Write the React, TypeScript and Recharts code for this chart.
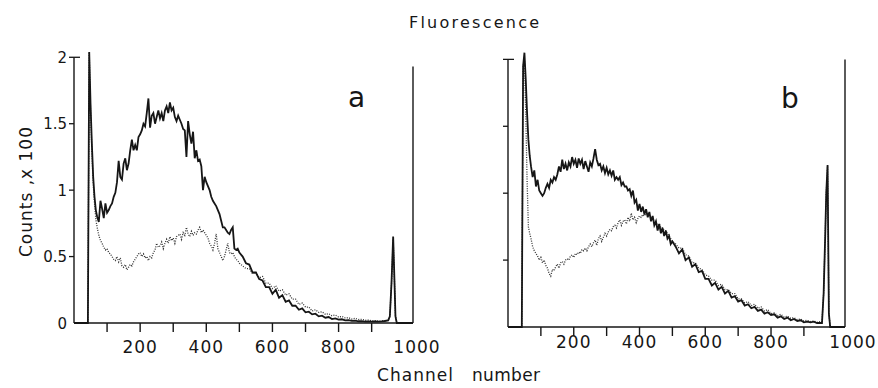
import React from 'react';
import { LineChart, Line, XAxis, YAxis, ReferenceLine } from 'recharts';

// Channel numbers (x values)
const channels = [
  0, 42, 46, 50, 54, 58, 62, 66, 70,
  75, 80, 85, 90, 95, 100, 105, 110, 115, 120,
  125, 130, 135, 140, 145, 150, 155, 160, 165, 170,
  175, 180, 185, 190, 195, 200, 205, 210, 215, 220,
  225, 230, 235, 240, 245, 250, 255, 260, 265, 270,
  275, 280, 285, 290, 295, 300, 305, 310, 315, 320,
  325, 330, 335, 340, 345, 350, 355, 360, 365, 370,
  375, 380, 385, 390, 395, 400, 405, 410, 415, 420,
  425, 430, 435, 440, 445, 450, 455, 460, 465, 470,
  475, 480, 485, 490, 495, 500,
  510, 520, 530, 540, 550, 560, 570, 580, 590, 600,
  610, 620, 630, 640, 650, 660, 670, 680, 690, 700,
  710, 720, 730, 740, 750, 760, 770, 780, 790, 800,
  810, 820, 830, 840, 850, 860, 870, 880, 890, 900,
  910, 920, 930, 940, 950,
  955, 960, 965, 968, 972, 976, 980, 1000, 1025,
];

// Panel a, solid trace (counts x 100)
const aSolid = [
  0, 0, 2.04, 1.65, 1.35, 1.1, 0.95, 0.85, 0.8,
  0.76, 0.92, 0.86, 0.79, 0.9, 0.83, 0.85, 0.88, 0.9, 0.95,
  0.98, 1.06, 1.22, 1.1, 1.08, 1.2, 1.24, 1.15, 1.2, 1.3,
  1.38, 1.3, 1.34, 1.3, 1.4, 1.42, 1.45, 1.5, 1.48, 1.58,
  1.69, 1.47, 1.56, 1.58, 1.5, 1.55, 1.6, 1.54, 1.58, 1.52,
  1.6, 1.63, 1.58, 1.66, 1.6, 1.62, 1.55, 1.52, 1.56, 1.53,
  1.5, 1.46, 1.45, 1.25, 1.52, 1.42, 1.35, 1.44, 1.24, 1.3,
  1.22, 1.23, 1.18, 1.0, 1.1, 1.06, 1.03, 1.0, 0.95, 0.92,
  0.9, 0.88, 0.85, 0.82, 0.77, 0.72, 0.72, 0.7, 0.68, 0.67,
  0.7, 0.72, 0.56, 0.55, 0.56, 0.53,
  0.5, 0.45, 0.44, 0.38, 0.38, 0.33, 0.32, 0.27, 0.27, 0.22,
  0.25, 0.19, 0.21, 0.16, 0.17, 0.13, 0.13, 0.1, 0.11, 0.08,
  0.085, 0.065, 0.07, 0.05, 0.055, 0.04, 0.045, 0.03, 0.035, 0.025,
  0.028, 0.02, 0.022, 0.016, 0.018, 0.013, 0.014, 0.01, 0.012, 0.01,
  0.012, 0.01, 0.012, 0.015, 0.02,
  0.05, 0.3, 0.65, 0.4, 0.05, 0, 0, 0, 0,
];

// Panel a, dotted trace
const aDotted = [
  0, 0, 2.04, 1.6, 1.3, 1.05, 0.9, 0.78, 0.72,
  0.66, 0.62, 0.6, 0.57, 0.55, 0.56, 0.53, 0.52, 0.5, 0.48,
  0.47, 0.5, 0.46, 0.49, 0.43, 0.42, 0.44, 0.4, 0.42, 0.44,
  0.43, 0.46, 0.48, 0.5, 0.52, 0.53, 0.5, 0.52, 0.49, 0.5,
  0.47, 0.5, 0.49, 0.53, 0.55, 0.6, 0.57, 0.58, 0.61, 0.56,
  0.6, 0.63, 0.6, 0.65, 0.62, 0.64, 0.6, 0.65, 0.66, 0.67,
  0.63, 0.68, 0.66, 0.72, 0.67, 0.65, 0.69, 0.66, 0.68, 0.67,
  0.7, 0.72, 0.68, 0.7, 0.68, 0.66, 0.64, 0.6, 0.58, 0.55,
  0.6, 0.67, 0.56, 0.53, 0.5, 0.47, 0.5, 0.55, 0.6, 0.53,
  0.52, 0.53, 0.5, 0.48, 0.47, 0.45,
  0.43, 0.41, 0.41, 0.37, 0.38, 0.34, 0.35, 0.3, 0.3, 0.26,
  0.28, 0.24, 0.25, 0.21, 0.22, 0.18, 0.18, 0.14, 0.15, 0.12,
  0.12, 0.09, 0.1, 0.08, 0.085, 0.065, 0.07, 0.055, 0.06, 0.045,
  0.05, 0.038, 0.04, 0.03, 0.035, 0.026, 0.028, 0.02, 0.022, 0.016,
  0.018, 0.014, 0.016, 0.018, 0.02,
  0.05, 0.3, 0.63, 0.4, 0.05, 0, 0, 0, 0,
];

// Panel b, solid trace
const bSolid = [
  0, 0, 1.95, 2.05, 1.85, 1.6, 1.4, 1.28, 1.2,
  1.12, 1.17, 1.05, 1.1, 1.02, 1.0, 0.98, 1.0, 1.04, 1.07,
  1.04, 1.1, 1.08, 1.12, 1.1, 1.14, 1.2, 1.16, 1.25, 1.18,
  1.22, 1.17, 1.23, 1.2, 1.27, 1.22, 1.25, 1.19, 1.26, 1.22,
  1.25, 1.18, 1.24, 1.2, 1.16, 1.23, 1.2, 1.26, 1.33, 1.25,
  1.21, 1.22, 1.17, 1.2, 1.15, 1.19, 1.14, 1.17, 1.13, 1.17,
  1.1, 1.12, 1.1, 1.12, 1.06, 1.08, 1.05, 1.05, 1.02, 1.03,
  0.98, 1.02, 0.93, 0.95, 0.87, 0.92, 0.86, 0.9, 0.84, 0.88,
  0.82, 0.86, 0.79, 0.83, 0.76, 0.79, 0.72, 0.77, 0.7, 0.74,
  0.68, 0.72, 0.66, 0.68, 0.62, 0.64,
  0.6, 0.55, 0.58, 0.5, 0.52, 0.45, 0.47, 0.41, 0.42, 0.36,
  0.36, 0.31, 0.33, 0.28, 0.3, 0.25, 0.27, 0.22, 0.23, 0.19,
  0.2, 0.16, 0.17, 0.14, 0.15, 0.12, 0.13, 0.1, 0.11, 0.09,
  0.095, 0.07, 0.08, 0.06, 0.07, 0.05, 0.06, 0.045, 0.05, 0.035,
  0.04, 0.035, 0.04, 0.03, 0.03,
  0.03, 0.25, 0.7, 1.0, 1.21, 0.1, 0, 0, 0,
];

// Panel b, dotted trace
const bDotted = [
  0, 0, 1.95, 2.0, 1.6, 1.1, 0.75, 0.7, 0.66,
  0.6, 0.57, 0.55, 0.53, 0.5, 0.52, 0.48, 0.5, 0.46, 0.44,
  0.4, 0.38, 0.43, 0.42, 0.45, 0.47, 0.44, 0.48, 0.49, 0.47,
  0.5, 0.51, 0.5, 0.53, 0.54, 0.52, 0.55, 0.54, 0.56, 0.55,
  0.58, 0.57, 0.59, 0.57, 0.6, 0.62, 0.6, 0.63, 0.65, 0.61,
  0.66, 0.68, 0.64, 0.67, 0.7, 0.68, 0.71, 0.73, 0.72, 0.75,
  0.76, 0.74, 0.78, 0.8, 0.76, 0.79, 0.8, 0.77, 0.82, 0.79,
  0.85, 0.8, 0.82, 0.78, 0.81, 0.83, 0.82, 0.84, 0.83, 0.85,
  0.84, 0.83, 0.82, 0.81, 0.79, 0.78, 0.76, 0.77, 0.74, 0.74,
  0.72, 0.72, 0.7, 0.68, 0.66, 0.64,
  0.62, 0.59, 0.59, 0.54, 0.53, 0.48, 0.48, 0.44, 0.43, 0.39,
  0.38, 0.35, 0.35, 0.31, 0.32, 0.28, 0.28, 0.25, 0.25, 0.21,
  0.21, 0.18, 0.19, 0.16, 0.17, 0.14, 0.15, 0.12, 0.13, 0.1,
  0.105, 0.085, 0.095, 0.075, 0.08, 0.065, 0.07, 0.055, 0.06, 0.045,
  0.05, 0.04, 0.045, 0.035, 0.04,
  0.04, 0.25, 0.7, 1.0, 1.2, 0.1, 0, 0, 0,
];

const yTicks = [0, 0.5, 1, 1.5, 2];
const xTickMarks = [100, 200, 300, 400, 500, 600, 700, 800, 900];
const xLabelValues = [200, 400, 600, 800];
const xEndLabel = '1000';
const X_MAX = 1025;
const Y_MAX = 2.1;

const INK = '#161616';
const FONT = 'DejaVu Sans';

const build = (s: number[], d: number[]) =>
  channels.map((c, i) => ({ ch: c, solid: s[i], dotted: d[i] }));

const makeXTick = (labelDy: number, endDx: number) => (props: any) => {
  const { x, y, payload } = props;
  const v = payload.value;
  const isEnd = v === X_MAX;
  const label = isEnd ? xEndLabel : xLabelValues.includes(v) ? String(v) : '';
  return (
    <g>
      {!isEnd && <line x1={x} x2={x} y1={y} y2={y + 9} stroke={INK} strokeWidth={1.4} />}
      {label && (
        <text x={isEnd ? x + endDx : x} y={y + labelDy} textAnchor="middle" fontSize={17}
          letterSpacing={1} fill={INK} fontFamily={FONT}>{label}</text>
      )}
    </g>
  );
};

const makeLeftTick = (showLabels: boolean) => (props: any) => {
  const { x, y, payload } = props;
  const v = payload.value;
  return (
    <g>
      {v !== 0 && <line x1={x - 5} x2={x + (v === 2 ? 6 : 0)} y1={y} y2={y} stroke={INK} strokeWidth={1.3} />}
      {showLabels && (
        <text x={x - 7} y={y + 5.5} textAnchor="end" fontSize={15} fill={INK} fontFamily={FONT}>{String(v)}</text>
      )}
    </g>
  );
};

const rightTick = (props: any) => {
  const { x, y, payload } = props;
  if (payload.value === 0) return <g />;
  return <line x1={x - 7} x2={x} y1={y} y2={y} stroke={INK} strokeWidth={1.3} />;
};

type PanelProps = {
  data: any[];
  width: number;
  margin: { top: number; right: number; left: number; bottom: number };
  leftW: number;
  showLabels: boolean;
  labelDy: number;
  endDx: number;
  rightTop: number;
};

function Panel({ data, width, margin, leftW, showLabels, labelDy, endDx, rightTop }: PanelProps) {
  const rightTicks = [0.5, 1, 1.5, rightTop];
  return (
    <LineChart width={width} height={388} data={data} margin={margin}>
      <XAxis type="number" dataKey="ch" domain={[0, X_MAX]} ticks={[...xTickMarks, X_MAX]}
        interval={0} tickLine={false} tickSize={0} tickMargin={0} height={30}
        axisLine={{ stroke: INK, strokeWidth: 1.4 }} tick={makeXTick(labelDy, endDx)} />
      <YAxis yAxisId="left" type="number" domain={[0, Y_MAX]} ticks={yTicks} interval={0}
        axisLine={false} tickLine={false} tickSize={0} tickMargin={0} width={leftW}
        tick={makeLeftTick(showLabels)} />
      <YAxis yAxisId="right" orientation="right" type="number" domain={[0, Y_MAX]} ticks={rightTicks}
        interval={0} axisLine={false} tickLine={false} tickSize={0} tickMargin={0} width={0}
        tick={rightTick} />
      <ReferenceLine yAxisId="left" segment={[{ x: 0, y: 0 }, { x: 0, y: 2 }]} stroke={INK}
        strokeWidth={1.4} ifOverflow="visible" />
      <ReferenceLine yAxisId="left" segment={[{ x: X_MAX, y: 0 }, { x: X_MAX, y: rightTop }]} stroke={INK}
        strokeWidth={1.4} ifOverflow="visible" />
      <Line yAxisId="left" type="linear" dataKey="dotted" stroke="#333" strokeWidth={1.3}
        strokeDasharray="1 1.4" dot={false} isAnimationActive={false} />
      <Line yAxisId="left" type="linear" dataKey="solid" stroke={INK} strokeWidth={1.8}
        dot={false} isAnimationActive={false} />
    </LineChart>
  );
}

export default function App() {
  const dataA = build(aSolid, aDotted);
  const dataB = build(bSolid, bDotted);
  return (
    <div style={{ position: 'absolute', left: 0, top: 0, width: 878, height: 388, background: '#fff', overflow: 'hidden' }}>
      <div style={{ position: 'absolute', left: 0, top: 0 }}>
        <Panel data={dataA} width={440} margin={{ top: 44, right: 27, left: 34, bottom: 35 }} leftW={40}
          showLabels={true} labelDy={30} endDx={4} rightTop={1.93} />
      </div>
      <div style={{ position: 'absolute', left: 440, top: 0 }}>
        <Panel data={dataB} width={438} margin={{ top: 46, right: 33, left: 28, bottom: 31 }} leftW={40}
          showLabels={false} labelDy={21} endDx={8} rightTop={2} />
      </div>
      <svg width={878} height={388} style={{ position: 'absolute', left: 0, top: 0, pointerEvents: 'none' }}>
        <text x={409} y={28} fontSize={16} textLength={130} lengthAdjust="spacing" fill={INK} fontFamily={FONT}>Fluorescence</text>
        <text transform="translate(32,192) rotate(-90)" textAnchor="middle" fontSize={17} textLength={130}
          lengthAdjust="spacing" fill={INK} fontFamily={FONT}>Counts ,x 100</text>
        <text x={377} y={381} fontSize={17} textLength={76} lengthAdjust="spacing" fill={INK} fontFamily={FONT}>Channel</text>
        <text x={472} y={381} fontSize={17} textLength={68} lengthAdjust="spacing" fill={INK} fontFamily={FONT}>number</text>
        <text x={348} y={107} fontSize={28} fill={INK} fontFamily={FONT}>a</text>
        <text x={781} y={108} fontSize={28} fill={INK} fontFamily={FONT}>b</text>
      </svg>
    </div>
  );
}
